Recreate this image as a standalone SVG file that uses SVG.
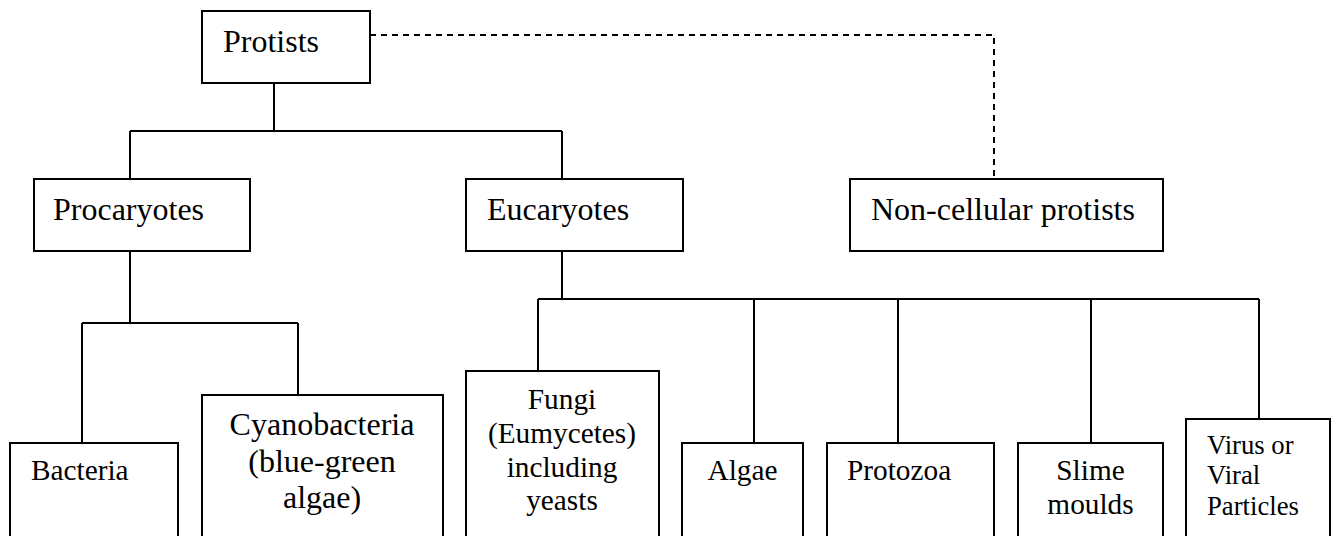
<svg xmlns="http://www.w3.org/2000/svg" width="1338" height="536" viewBox="0 0 1338 536">
<style>
.box{fill:#fff;stroke:#000;stroke-width:2}
.ln{fill:none;stroke:#000;stroke-width:2}
.dash{fill:none;stroke:#000;stroke-width:2;stroke-dasharray:6 5}
.t32{font-size:32px}
.t29{font-size:29.3px}
.t27{font-size:26.7px}
.c{text-anchor:middle}
</style>
<rect x="0" y="0" width="1338" height="536" fill="#fff"/>
<g id="connectors">
<path class="ln" d="M274 83V131M130 131H562M130 131V179M562 131V179"/>
<path class="dash" d="M370 35H994V179"/>
<path class="ln" d="M130 251V323M82 323H298M82 323V443M298 323V395"/>
<path class="ln" d="M562 251V299M538 299H1259M538 299V371M754 299V443M898 299V443M1091 299V443M1259 299V419"/>
</g>
<g font-family="Liberation Serif, DejaVu Serif, serif" fill="#000">
<g id="protists"><rect class="box" x="202" y="11" width="168" height="72"/><text class="t32" x="223" y="52">Protists</text></g>
<g id="procaryotes"><rect class="box" x="34" y="179" width="216" height="72"/><text class="t32" x="53" y="220">Procaryotes</text></g>
<g id="eucaryotes"><rect class="box" x="466" y="179" width="217" height="72"/><text class="t32" x="487" y="220">Eucaryotes</text></g>
<g id="noncellular"><rect class="box" x="850" y="179" width="313" height="72"/><text class="t32" x="871" y="220">Non-cellular protists</text></g>
<g id="bacteria"><rect class="box" x="10" y="443" width="168" height="110"/><text class="t29" x="31" y="480">Bacteria</text></g>
<g id="cyanobacteria"><rect class="box" x="202" y="395" width="241" height="160"/><text class="t32 c" x="322" y="435">Cyanobacteria</text><text class="t32 c" x="322" y="471.5">(blue-green</text><text class="t32 c" x="322" y="508">algae)</text></g>
<g id="fungi"><rect class="box" x="466" y="371" width="193" height="180"/><text class="t29 c" x="562" y="409">Fungi</text><text class="t29 c" x="562" y="443">(Eumycetes)</text><text class="t29 c" x="562" y="476.5">including</text><text class="t29 c" x="562" y="510">yeasts</text></g>
<g id="algae"><rect class="box" x="682" y="443" width="121" height="110"/><text class="t29 c" x="742.5" y="480">Algae</text></g>
<g id="protozoa"><rect class="box" x="827" y="443" width="167" height="110"/><text class="t29" x="847" y="480">Protozoa</text></g>
<g id="slime"><rect class="box" x="1018" y="443" width="145" height="110"/><text class="t29 c" x="1090.5" y="480">Slime</text><text class="t29 c" x="1090.5" y="513.5">moulds</text></g>
<g id="virus"><rect class="box" x="1186" y="419" width="144" height="130"/><text class="t27" x="1207" y="454">Virus or</text><text class="t27" x="1207" y="484">Viral</text><text class="t27" x="1207" y="515">Particles</text></g>
</g>
</svg>
